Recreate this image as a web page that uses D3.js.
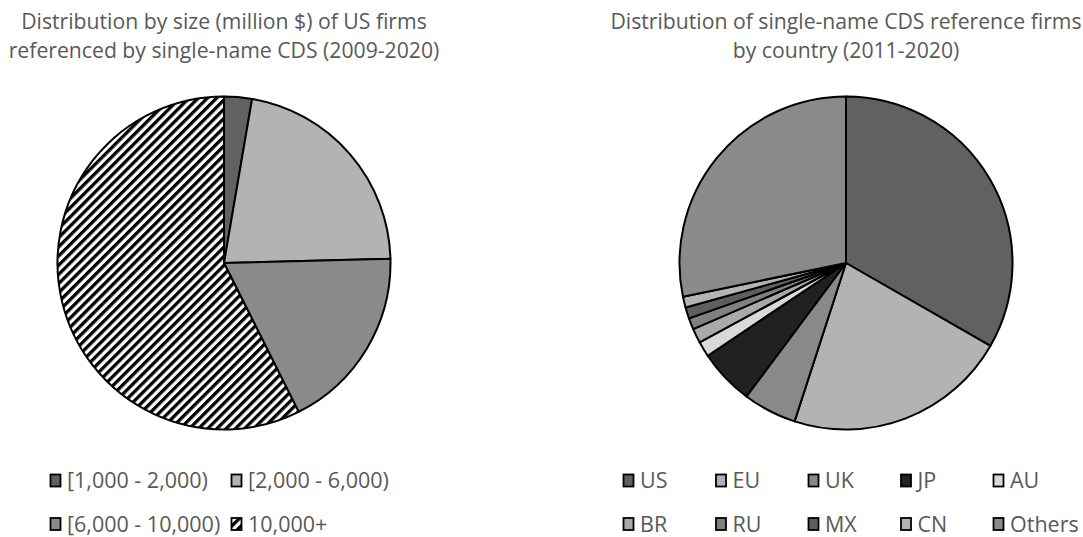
<!DOCTYPE html>
<html>
<head>
<meta charset="utf-8">
<script src="https://cdn.jsdelivr.net/npm/d3@7"></script>
<style>
  body { margin: 0; background: #fff; }
  text { font-family: "Open Sans", sans-serif; fill: #595959; }
</style>
</head>
<body>
<svg id="chart" width="1083" height="537"></svg>
<script>
// Daten: linker Kreis (Größenklassen, Anteil in %)
var sizeLabels = ["[1,000 - 2,000)", "[2,000 - 6,000)", "[6,000 - 10,000)", "10,000+"];
var sizeShares = [2.7, 21.9, 18.0, 57.4];

// Daten: rechter Kreis (Länder, Anteil in %)
var countryLabels = ["US", "EU", "UK", "JP", "AU", "BR", "RU", "MX", "CN", "Others"];
var countryShares = [33.3, 21.7, 5.2, 5.4, 1.5, 1.4, 1.1, 1.1, 1.05, 28.25];

// Titel
var leftTitle = ["Distribution by size (million $) of US firms", "referenced by single-name CDS (2009-2020)"];
var rightTitle = ["Distribution of single-name CDS reference firms", "by country (2011-2020)"];

// Farben (Graustufen wie in Excel)
var sizeColors = ["#616161", "#b3b3b3", "#8a8a8a", "url(#hatch)"];
var countryColors = ["#616161", "#b3b3b3", "#898989", "#212121", "#d9d9d9",
                     "#a9a9a9", "#808080", "#5e5e5e", "#b4b4b4", "#8a8a8a"];

var svg = d3.select("#chart");
var radius = 166.5;

// Schraffur für 10,000+
var defs = svg.append("defs");
var pat = defs.append("pattern")
  .attr("id", "hatch")
  .attr("patternUnits", "userSpaceOnUse")
  .attr("width", 6.5)
  .attr("height", 6.5)
  .attr("patternTransform", "rotate(45)");
pat.append("rect").attr("width", 6.5).attr("height", 6.5).attr("fill", "#fff");
pat.append("rect").attr("width", 3.3).attr("height", 6.5).attr("fill", "#000");

/**
 * Zeichnet einen Kreis samt Titel.
 */
function drawPie(values, colors, cx, cy, title) {
  var pie = d3.pie().sort(null).value(function(d){ return d; });
  var arc = d3.arc().innerRadius(0).outerRadius(radius);

  var g = svg.append("g").attr("transform", "translate(" + cx + "," + cy + ")");
  g.selectAll("path")
    .data(pie(values))
    .enter().append("path")
    .attr("d", arc)
    .attr("fill", function(d, i){ return colors[i]; })
    .attr("stroke", "#000")
    .attr("stroke-width", 2)
    .attr("stroke-linejoin", "round");

  var t = svg.append("text")
    .attr("text-anchor", "middle")
    .attr("font-size", 21.2);
  title.forEach(function(line, i){
    t.append("tspan").attr("x", cx).attr("y", 29 + i * 29).text(line);
  });
}

/**
 * Legende: Kästchen + Text an gegebenen Positionen.
 */
function drawLegend(labels, colors, xs, ys, cols) {
  var items = svg.selectAll(null)
    .data(labels)
    .enter().append("g")
    .attr("transform", function(d, i){
      return "translate(" + xs[i % cols] + "," + ys[Math.floor(i / cols)] + ")";
    });

  items.append("rect")
    .attr("x", 0.5).attr("y", -6.5)
    .attr("width", 10).attr("height", 12)
    .attr("fill", function(d, i){ return colors[i]; })
    .attr("stroke", "#000")
    .attr("stroke-width", 1.8);

  items.append("text")
    .attr("x", 17)
    .attr("y", 7)
    .attr("font-size", 21.5)
    .text(function(d){ return d; });
}

drawPie(sizeShares, sizeColors, 224, 263, leftTitle);
drawPie(countryShares, countryColors, 846, 263, rightTitle);

drawLegend(sizeLabels, sizeColors, [50, 231], [481, 524.5], 2);
drawLegend(countryLabels, countryColors, [623, 715.5, 808, 900.5, 993], [481, 524.5], 5);
</script>
</body>
</html>
